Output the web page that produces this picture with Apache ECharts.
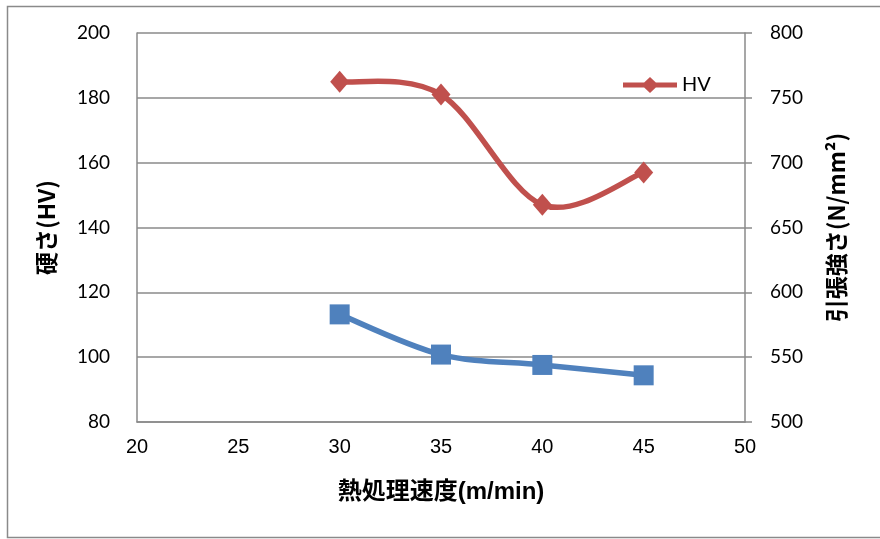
<!DOCTYPE html>
<html>
<head>
<meta charset="utf-8">
<script src="https://cdn.jsdelivr.net/npm/echarts@6/dist/echarts.min.js"></script>
<style>
  html, body { margin: 0; padding: 0; background: #fff; }
  #chart { width: 880px; height: 539px; }
</style>
</head>
<body>
<div id="chart"></div>
<script>
// Heat-treatment speed (m/min)
const speeds = [30, 35, 40, 45];
// Hardness HV (left axis)
const hardness = [185, 181, 147, 157];
// Tensile strength N/mm² (right axis)
const tensile = [583, 552, 544, 536];

const xTicks = { min: 20, max: 50, interval: 5 };
const leftTicks = { min: 80, max: 200, interval: 20 };
const rightTicks = { min: 500, max: 800, interval: 50 };

const red = '#C0504D';
const blue = '#4F81BD';
const lineW = 5.5;
const gridGray = '#8a8a8a';
const numFont = 'Lato, "Open Sans", sans-serif';
const narrowFont = '"Liberation Sans Narrow", "Liberation Sans", sans-serif';
const cjkFont = '"Noto Sans CJK JP", sans-serif';

// Legend glyph: thick line with a diamond marker in the middle
const legendIcon = 'path://M0,5.5H54V10.5H0Z M18.5,8L27,0L35.5,8L27,16Z';

// Cardinal (Catmull-Rom style) smoothing, one Bezier segment per data interval,
// with control points derived from the pixel positions of neighbouring points.
function smoothSegment(values, color) {
  return function (params, api) {
    const i = params.dataIndex;
    if (i >= speeds.length - 1) return null;
    const p = (k) => {
      const kk = Math.max(0, Math.min(speeds.length - 1, k));
      return api.coord([speeds[kk], values[kk]]);
    };
    const p0 = p(i - 1), p1 = p(i), p2 = p(i + 1), p3 = p(i + 2);
    const t = 1 / 6;
    return {
      type: 'bezierCurve',
      shape: {
        x1: p1[0], y1: p1[1],
        cpx1: p1[0] + (p2[0] - p0[0]) * t, cpy1: p1[1] + (p2[1] - p0[1]) * t,
        cpx2: p2[0] - (p3[0] - p1[0]) * t, cpy2: p2[1] - (p3[1] - p1[1]) * t,
        x2: p2[0], y2: p2[1]
      },
      style: { stroke: color, lineWidth: lineW, fill: null, lineCap: 'round' },
      silent: true
    };
  };
}

const chart = echarts.init(document.getElementById('chart'), null, { renderer: 'canvas' });

chart.setOption({
  animation: false,
  backgroundColor: '#ffffff',
  graphic: [{
    type: 'rect',
    shape: { x: 7.5, y: 6.5, width: 880, height: 531 },
    style: { fill: null, stroke: '#8a8a8a', lineWidth: 1.5 },
    silent: true,
    z: 0
  }],
  grid: { left: 137, right: 135, top: 33, bottom: 117, containLabel: false },
  legend: {
    data: [{ name: 'HV', icon: legendIcon }],
    left: 618,
    top: 70,
    itemWidth: 54,
    itemHeight: 16,
    itemGap: 6,
    textStyle: { fontFamily: numFont, fontSize: 20, color: '#000' }
  },
  xAxis: {
    type: 'value',
    min: xTicks.min, max: xTicks.max, interval: xTicks.interval,
    name: '熱処理速度(m/min)',
    nameLocation: 'middle',
    nameGap: 58,
    nameTextStyle: { fontFamily: narrowFont + ', ' + cjkFont, fontSize: 24, fontWeight: 'bold', color: '#000' },
    axisLine: { show: true, onZero: false, lineStyle: { color: gridGray, width: 1.5 } },
    axisTick: { show: false },
    axisLabel: { fontFamily: narrowFont, fontSize: 20, color: '#000', margin: 15 },
    splitLine: { show: false }
  },
  yAxis: [{
    type: 'value',
    position: 'left',
    min: leftTicks.min, max: leftTicks.max, interval: leftTicks.interval,
    name: '硬さ(HV)',
    nameLocation: 'middle',
    nameGap: 79,
    nameTextStyle: { fontFamily: cjkFont, fontSize: 23, fontWeight: 'bold', color: '#000' },
    axisLine: { show: true, lineStyle: { color: gridGray, width: 1.5 } },
    axisTick: { show: false },
    axisLabel: { fontFamily: numFont, fontSize: 19, color: '#000', margin: 27 },
    splitLine: { show: true, lineStyle: { color: gridGray, width: 1.5 } }
  }, {
    type: 'value',
    position: 'right',
    min: rightTicks.min, max: rightTicks.max, interval: rightTicks.interval,
    name: '引張強さ(N/mm²)',
    nameLocation: 'middle',
    nameGap: 80,
    nameTextStyle: { fontFamily: cjkFont, fontSize: 23, fontWeight: 'bold', color: '#000' },
    axisLine: { show: true, lineStyle: { color: gridGray, width: 1.5 } },
    axisTick: { show: true, inside: false, length: 7, lineStyle: { color: gridGray, width: 1.5 } },
    axisLabel: { fontFamily: numFont, fontSize: 19, color: '#000', margin: 25 },
    splitLine: { show: false }
  }],
  series: [{
    // smoothed hardness curve; also supplies the legend entry
    name: 'HV',
    type: 'custom',
    yAxisIndex: 0,
    data: speeds.map((s, i) => [s, hardness[i]]),
    encode: { x: 0, y: 1 },
    itemStyle: { color: red },
    renderItem: smoothSegment(hardness, red),
    z: 2
  }, {
    name: '引張強さ',
    type: 'custom',
    yAxisIndex: 1,
    data: speeds.map((s, i) => [s, tensile[i]]),
    encode: { x: 0, y: 1 },
    itemStyle: { color: blue },
    renderItem: smoothSegment(tensile, blue),
    z: 2
  }, {
    name: 'HV markers',
    type: 'line',
    yAxisIndex: 0,
    data: speeds.map((s, i) => [s, hardness[i]]),
    symbol: 'diamond',
    symbolSize: [19, 22],
    itemStyle: { color: red },
    lineStyle: { color: red, width: lineW, opacity: 0 },
    z: 4
  }, {
    name: '引張強さ markers',
    type: 'line',
    yAxisIndex: 1,
    data: speeds.map((s, i) => [s, tensile[i]]),
    symbol: 'rect',
    symbolSize: 20,
    itemStyle: { color: blue },
    lineStyle: { color: blue, width: lineW, opacity: 0 },
    z: 4
  }]
});
</script>
</body>
</html>
